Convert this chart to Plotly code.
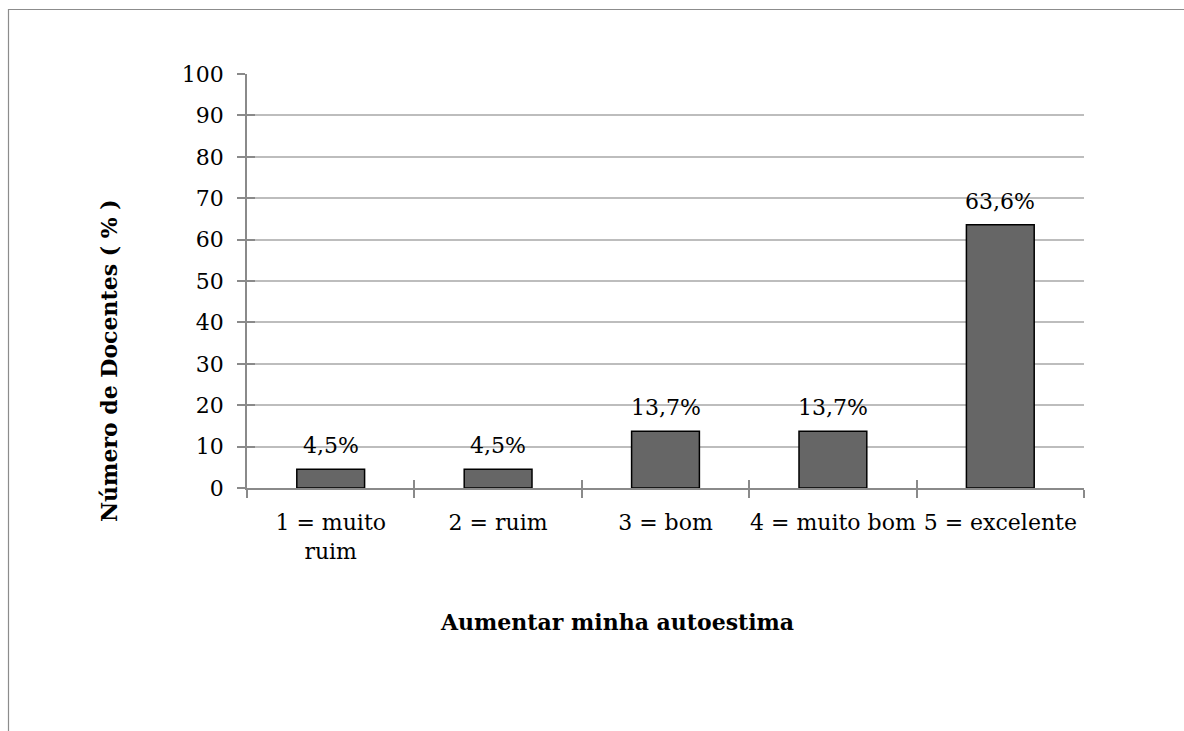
import plotly.graph_objects as go

# Survey answers (share of teachers, %)
categories = ["1 = muito<br>ruim", "2 = ruim", "3 = bom", "4 = muito bom", "5 = excelente"]
values = [4.5, 4.5, 13.7, 13.7, 63.6]
y_ticks = list(range(0, 101, 10))
x_title = "Aumentar minha autoestima"
y_title = "Número de Docentes ( % )"

FONT = "DejaVu Serif"
FONT_SIZE = 22
W, H = 1184, 731
L, R, T, B = 247, 100, 74, 243
PW, PH = W - L - R, H - T - B
AXIS_GREY = "#8a8a8a"
GRID_GREY = "#bdbdbd"


def px_x(px):
    return (px - L) / PW


def px_y(py):
    return (H - B - py) / PH


def pct(v):
    return f"{v:.1f}".replace(".", ",") + "%"


fig = go.Figure()

fig.add_trace(go.Bar(
    x=categories, y=values,
    marker=dict(color="#666666", line=dict(color="#000000", width=1.5)),
    showlegend=False, hoverinfo="skip",
))

# companion trace for the overlay axes that carry the inward tick halves
fig.add_trace(go.Scatter(
    x=categories, y=values, xaxis="x2", yaxis="y2",
    mode="none", showlegend=False, hoverinfo="skip",
))

tick_font = dict(family=FONT, size=FONT_SIZE, color="#000000")

fig.update_layout(
    width=W, height=H,
    margin=dict(l=L, r=R, t=T, b=B),
    paper_bgcolor="white", plot_bgcolor="white",
    bargap=0.595,
    xaxis=dict(
        type="category", range=[-0.5, len(categories) - 0.5],
        showline=True, linecolor=AXIS_GREY, linewidth=1.5,
        ticks="outside", ticklen=8, tickwidth=1.5, tickcolor=AXIS_GREY,
        tickson="boundaries", showgrid=False, tickangle=0,
        tickfont=tick_font, ticklabelstandoff=14,
    ),
    yaxis=dict(
        range=[0, 100], tickvals=y_ticks,
        showline=True, linecolor=AXIS_GREY, linewidth=1.5,
        ticks="outside", ticklen=8, tickwidth=1.5, tickcolor=AXIS_GREY,
        showgrid=True, gridcolor=GRID_GREY, gridwidth=1.5, zeroline=False,
        tickfont=tick_font, ticklabelstandoff=9,
    ),
    xaxis2=dict(
        type="category", overlaying="x", range=[-0.5, len(categories) - 0.5],
        ticks="inside", ticklen=8, tickwidth=1.5, tickcolor=AXIS_GREY,
        tickson="boundaries", showticklabels=False, showgrid=False,
        showline=False, zeroline=False,
    ),
    yaxis2=dict(
        overlaying="y", range=[0, 100], tickvals=y_ticks, side="left",
        ticks="inside", ticklen=8, tickwidth=1.5, tickcolor=AXIS_GREY,
        showticklabels=False, showgrid=False, showline=False, zeroline=False,
    ),
)

# value labels above the bars
for c, v in zip(categories, values):
    fig.add_annotation(
        x=c, y=v, xref="x", yref="y", text=pct(v), showarrow=False,
        yanchor="bottom", yshift=9,
        font=dict(family=FONT, size=FONT_SIZE, color="#000000"),
    )

# axis titles
fig.add_annotation(
    x=px_x(617), y=px_y(622), xref="paper", yref="paper",
    text=f"<b>{x_title}</b>", showarrow=False,
    xanchor="center", yanchor="middle",
    font=dict(family=FONT, size=FONT_SIZE, color="#000000"),
)
fig.add_annotation(
    x=px_x(109), y=px_y(361), xref="paper", yref="paper",
    text=f"<b>{y_title}</b>", showarrow=False, textangle=-90,
    xanchor="center", yanchor="middle",
    font=dict(family=FONT, size=FONT_SIZE, color="#000000"),
)

# chart-area frame
fig.add_shape(
    type="rect", xref="paper", yref="paper",
    x0=px_x(8.5), x1=px_x(W + 20), y0=px_y(9.5), y1=px_y(H + 20),
    line=dict(color="#8c8c8c", width=1.2), fillcolor="rgba(0,0,0,0)",
    layer="below",
)

fig.write_html("out.html")
